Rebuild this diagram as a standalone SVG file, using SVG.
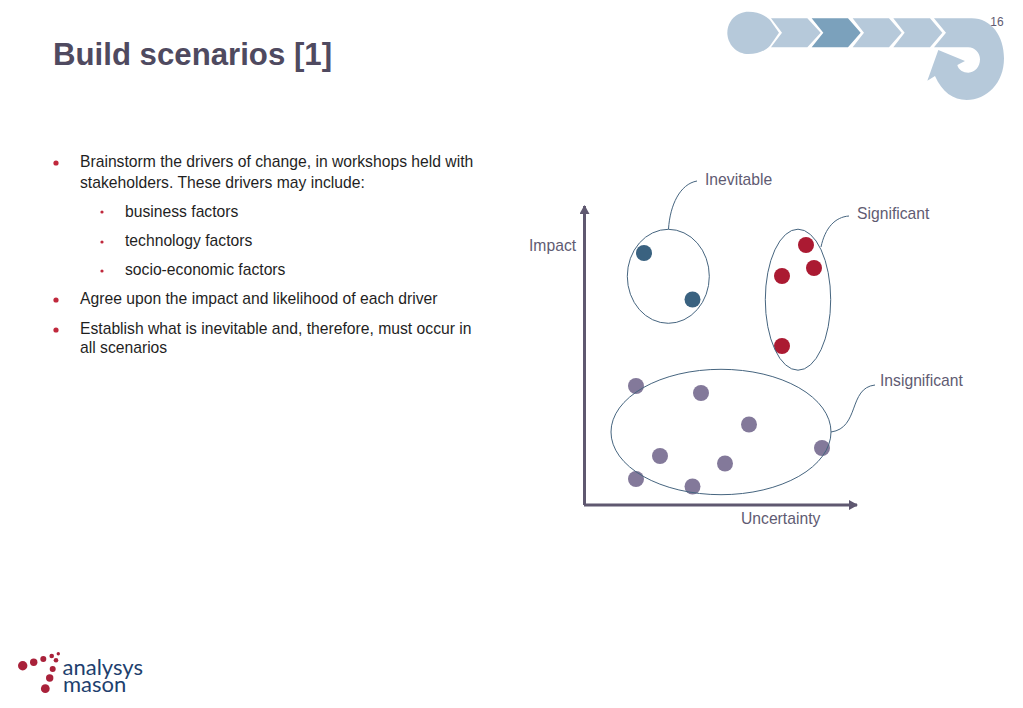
<svg xmlns="http://www.w3.org/2000/svg" width="1023" height="708" viewBox="0 0 1023 708">
<style>
text{font-family:"Liberation Sans",Arial,sans-serif}
.body{font-size:15.7px;fill:#1f1f1f}
.lbl{font-size:15.7px;fill:#5f5b72}
.blt{fill:#c0283c}
.ring{fill:none;stroke:#46657f;stroke-width:1}
.lead{fill:none;stroke:#46657f;stroke-width:1}
.axis{fill:none;stroke:#5f5870;stroke-width:3}
.nav{fill:#3a6280}.red{fill:#ab1a32}.pur{fill:#83799a}
.lt{fill:#b6c9da}.dk{fill:#7ba1bc}
.lg{fill:#a9213a}
.lgt{font-family:"Lato","Noto Sans",sans-serif;font-size:22px;fill:#1e3f6e}
</style>
<defs>
<marker id="ah" markerUnits="userSpaceOnUse" markerWidth="11" markerHeight="10" refX="8" refY="5" orient="auto"><path d="M0,0L9,5L0,10Z" fill="#5f5870"/></marker>
</defs>
<rect width="1023" height="708" fill="#fff"/>
<text x="53" y="65" font-size="31.2" font-weight="bold" fill="#4f4a60">Build scenarios [1]</text>
<text x="997" y="26" font-size="12" text-anchor="middle" fill="#5f5b72">16</text>
<g id="process-graphic" transform="translate(710,0) scale(.33333)">
<path class="lt" d="M115,35C145,35 165,45 180,60L207,98L180,137C165,152 145,162 115,162C80,162 52,133 52,98C52,63 80,35 115,35Z"/>
<path class="lt" d="M183,55H292L332,98L292,142H183L216,98Z"/>
<path class="dk" d="M305,55H414L452,98L414,142H305L340,98Z"/>
<path class="lt" d="M428,55H537L575,98L537,142H428L462,98Z"/>
<path class="lt" d="M550,55H660L697,98L660,142H550L584,98Z"/>
<path class="lt" d="M672,55H785C845,55 882,110 882,175C882,250 830,300 770,300C730,300 695,275 675,228L652,242L685,150L765,183L742,195C745,210 760,218 775,218C795,218 810,200 810,178C810,160 795,142 775,142H672L708,98Z"/>
</g>
<g id="bullets">
<circle class="blt" cx="56" cy="163" r="2.6"/>
<text class="body" x="80" y="167.3">Brainstorm the drivers of change, in workshops held with</text>
<text class="body" x="80" y="187.6">stakeholders. These drivers may include:</text>
<circle class="blt" cx="102" cy="212" r="1.6"/>
<text class="body" x="125" y="216.6">business factors</text>
<circle class="blt" cx="102" cy="242" r="1.6"/>
<text class="body" x="125" y="245.6">technology factors</text>
<circle class="blt" cx="102" cy="271" r="1.6"/>
<text class="body" x="125" y="274.6">socio-economic factors</text>
<circle class="blt" cx="56" cy="300" r="2.6"/>
<text class="body" x="80" y="304.2">Agree upon the impact and likelihood of each driver</text>
<circle class="blt" cx="56" cy="330" r="2.6"/>
<text class="body" x="80" y="333.6">Establish what is inevitable and, therefore, must occur in</text>
<text class="body" x="80" y="353.2">all scenarios</text>
</g>
<g id="connectors">
<path class="axis" d="M584.5,505V206" marker-end="url(#ah)"/>
<path class="axis" d="M584,505H857" marker-end="url(#ah)"/>
<path class="lead" d="M668.5,229C670,205 680,184 697,181"/>
<path class="lead" d="M821,247C825,228 835,217 849,216"/>
<path class="lead" d="M831,432C860,428 848,388 875,385"/>
</g>
<g id="axis-labels">
<text class="lbl" x="529" y="251">Impact</text>
<text class="lbl" x="741" y="524">Uncertainty</text>
</g>
<g id="node-inevitable">
<circle class="nav" cx="644" cy="253" r="8"/>
<circle class="nav" cx="692.5" cy="299.5" r="8"/>
<ellipse class="ring" cx="668.3" cy="276.3" rx="41" ry="47"/>
<text class="lbl" x="705" y="185">Inevitable</text>
</g>
<g id="node-significant">
<circle class="red" cx="806" cy="245" r="8"/>
<circle class="red" cx="814" cy="268" r="8"/>
<circle class="red" cx="782" cy="276" r="8"/>
<circle class="red" cx="782" cy="346" r="8"/>
<ellipse class="ring" cx="798" cy="299.7" rx="32.7" ry="70.5"/>
<text class="lbl" x="857" y="219">Significant</text>
</g>
<g id="node-insignificant">
<circle class="pur" cx="636" cy="386" r="8"/>
<circle class="pur" cx="701" cy="393" r="8"/>
<circle class="pur" cx="749" cy="424.5" r="8"/>
<circle class="pur" cx="822" cy="448" r="8"/>
<circle class="pur" cx="660" cy="456" r="8"/>
<circle class="pur" cx="725" cy="463.5" r="8"/>
<circle class="pur" cx="636" cy="479" r="8"/>
<circle class="pur" cx="692.5" cy="486.5" r="8"/>
<ellipse class="ring" cx="721" cy="432" rx="110" ry="62.7"/>
<text class="lbl" x="880" y="386">Insignificant</text>
</g>
<g id="logo">
<circle class="lg" cx="22.7" cy="665.7" r="4.7"/>
<circle class="lg" cx="33.7" cy="662.3" r="3.7"/>
<circle class="lg" cx="43.3" cy="659" r="3"/>
<circle class="lg" cx="51.7" cy="656" r="2.3"/>
<circle class="lg" cx="58.3" cy="653.7" r="1.7"/>
<circle class="lg" cx="56" cy="660.3" r="2.3"/>
<circle class="lg" cx="52.7" cy="669" r="3"/>
<circle class="lg" cx="49.7" cy="678" r="3.7"/>
<circle class="lg" cx="45.3" cy="688.7" r="4.4"/>
<text class="lgt" x="62.5" y="674.5">analysys</text>
<text class="lgt" x="63" y="692">mason</text>
</g>
</svg>
